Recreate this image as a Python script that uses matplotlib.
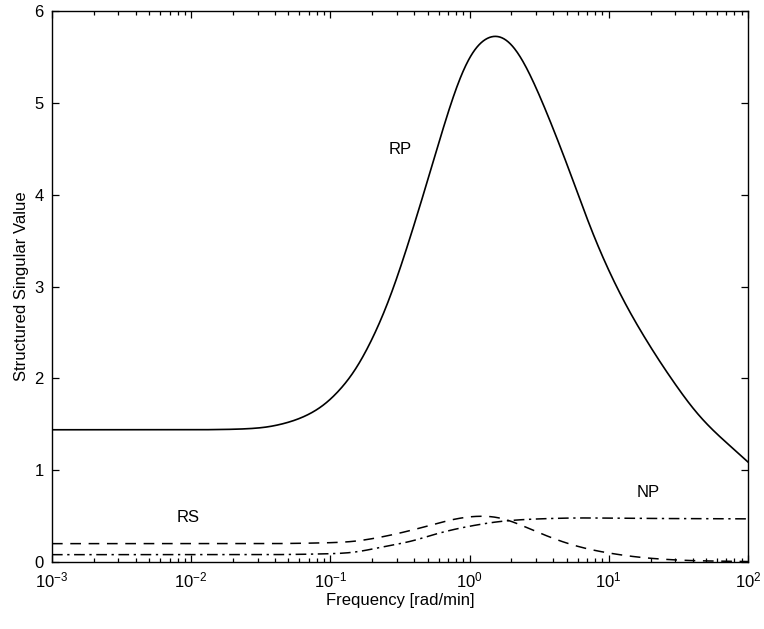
import numpy as np
import matplotlib
matplotlib.use("Agg")
import matplotlib.pyplot as plt
from matplotlib.ticker import LogLocator, LogFormatterMathtext, NullFormatter

plt.rcParams['font.family'] = ['Liberation Sans', 'DejaVu Sans']
plt.rcParams['mathtext.fontset'] = 'custom'
plt.rcParams['mathtext.rm'] = 'Liberation Sans'
plt.rcParams['mathtext.it'] = 'Liberation Sans'

# log10 frequency and values
rp_logf = [-3, -2.5, -2, -1.7, -1.5, -1.3, -1.1, -0.86, -0.7, -0.57, -0.45, -0.3, -0.234, -0.09,
           0.0, 0.11, 0.2, 0.31, 0.41, 0.556, 0.65, 0.733, 0.865, 0.985, 1.129, 1.296, 1.416,
           1.655, 2.0]
rp_val = [1.44, 1.44, 1.44, 1.445, 1.46, 1.52, 1.65, 2.0, 2.42, 2.88, 3.42, 4.16, 4.50, 5.20,
          5.52, 5.71, 5.75, 5.64, 5.39, 4.89, 4.53, 4.20, 3.65, 3.22, 2.78, 2.35, 2.07,
          1.58, 1.09]

rs_logf = [-3, -2, -1.5, -1.0, -0.86, -0.64, -0.38, -0.28, -0.1, 0.05, 0.15, 0.27, 0.45, 0.63,
           0.8, 0.99, 1.3, 1.6, 2.0]
rs_val = [0.20, 0.20, 0.20, 0.21, 0.22, 0.27, 0.36, 0.40, 0.47, 0.50, 0.50, 0.46, 0.35, 0.24,
          0.16, 0.10, 0.04, 0.015, 0.005]

np_logf = [-3, -2, -1.5, -1.0, -0.86, -0.64, -0.38, -0.28, 0.0, 0.27, 0.5, 0.8, 1.2, 2.0]
np_val = [0.08, 0.08, 0.08, 0.09, 0.10, 0.16, 0.24, 0.29, 0.39, 0.45, 0.47, 0.48, 0.475, 0.47]

labels = ["RP", "RS", "NP"]
label_pos = [(10**-0.5, 4.49), (10**-2.02, 0.49), (10**1.28, 0.76)]


def smooth(lx, v, n=1000, sigma=0.06):
    lx = np.asarray(lx, float); v = np.asarray(v, float)
    xs = np.linspace(lx[0], lx[-1], n)
    # monotone cubic (PCHIP) interpolation through read points
    h = np.diff(lx); d = np.diff(v) / h
    m = np.zeros_like(v)
    for k in range(1, len(v) - 1):
        if d[k - 1] * d[k] > 0:
            w1 = 2 * h[k] + h[k - 1]; w2 = h[k] + 2 * h[k - 1]
            m[k] = (w1 + w2) / (w1 / d[k - 1] + w2 / d[k])
    m[0] = d[0]; m[-1] = d[-1]
    idx = np.clip(np.searchsorted(lx, xs) - 1, 0, len(lx) - 2)
    t = (xs - lx[idx]) / h[idx]
    h00 = 2*t**3 - 3*t**2 + 1; h10 = t**3 - 2*t**2 + t
    h01 = -2*t**3 + 3*t**2; h11 = t**3 - t**2
    ys = h00*v[idx] + h10*h[idx]*m[idx] + h01*v[idx+1] + h11*h[idx]*m[idx+1]
    # light gaussian smoothing in log-frequency to remove reading jitter
    dx = xs[1] - xs[0]
    k = int(4 * sigma / dx)
    kern = np.exp(-0.5 * (np.arange(-k, k + 1) * dx / sigma) ** 2)
    kern /= kern.sum()
    padded = np.concatenate([ys[0] - (ys[1] - ys[0]) * np.arange(k, 0, -1),
                             ys,
                             ys[-1] + (ys[-1] - ys[-2]) * np.arange(1, k + 1)])
    ys = np.convolve(padded, kern, mode='valid')
    return 10**xs, ys


fig = plt.figure(figsize=(7.64, 6.29), dpi=100)
ax = fig.add_axes([0.068, 0.1065, 0.911, 0.876])

x, y = smooth(rp_logf, rp_val)
ax.plot(x, y, color='black', lw=1.2, ls='-')
x, y = smooth(rs_logf, rs_val)
ax.plot(x, y, color='black', lw=1.1, ls=(0, (7, 5)))
x, y = smooth(np_logf, np_val)
ax.plot(x, y, color='black', lw=1.1, ls=(0, (7, 3, 1.5, 3)))

for t, (px, py) in zip(labels, label_pos):
    ax.text(px, py, t, ha='center', va='center', fontsize=12)

ax.set_xscale('log')
ax.set_xlim(1e-3, 1e2)
ax.set_ylim(0, 6)
ax.set_yticks([0, 1, 2, 3, 4, 5, 6])
ax.xaxis.set_major_locator(LogLocator(base=10, numticks=10))
ax.xaxis.set_major_formatter(LogFormatterMathtext())
ax.xaxis.set_minor_locator(LogLocator(base=10, subs=np.arange(2, 10), numticks=100))
ax.xaxis.set_minor_formatter(NullFormatter())
ax.tick_params(which='both', direction='in', top=True, right=True, labelsize=12, width=0.9)
ax.tick_params(which='major', length=5, pad=6)
ax.tick_params(which='minor', length=3)
for s in ax.spines.values():
    s.set_linewidth(1.0)

ax.set_xlabel('Frequency [rad/min]', fontsize=12, labelpad=2)
ax.set_ylabel('Structured Singular Value', fontsize=12, labelpad=4)

fig.savefig('out.png', dpi=100)
